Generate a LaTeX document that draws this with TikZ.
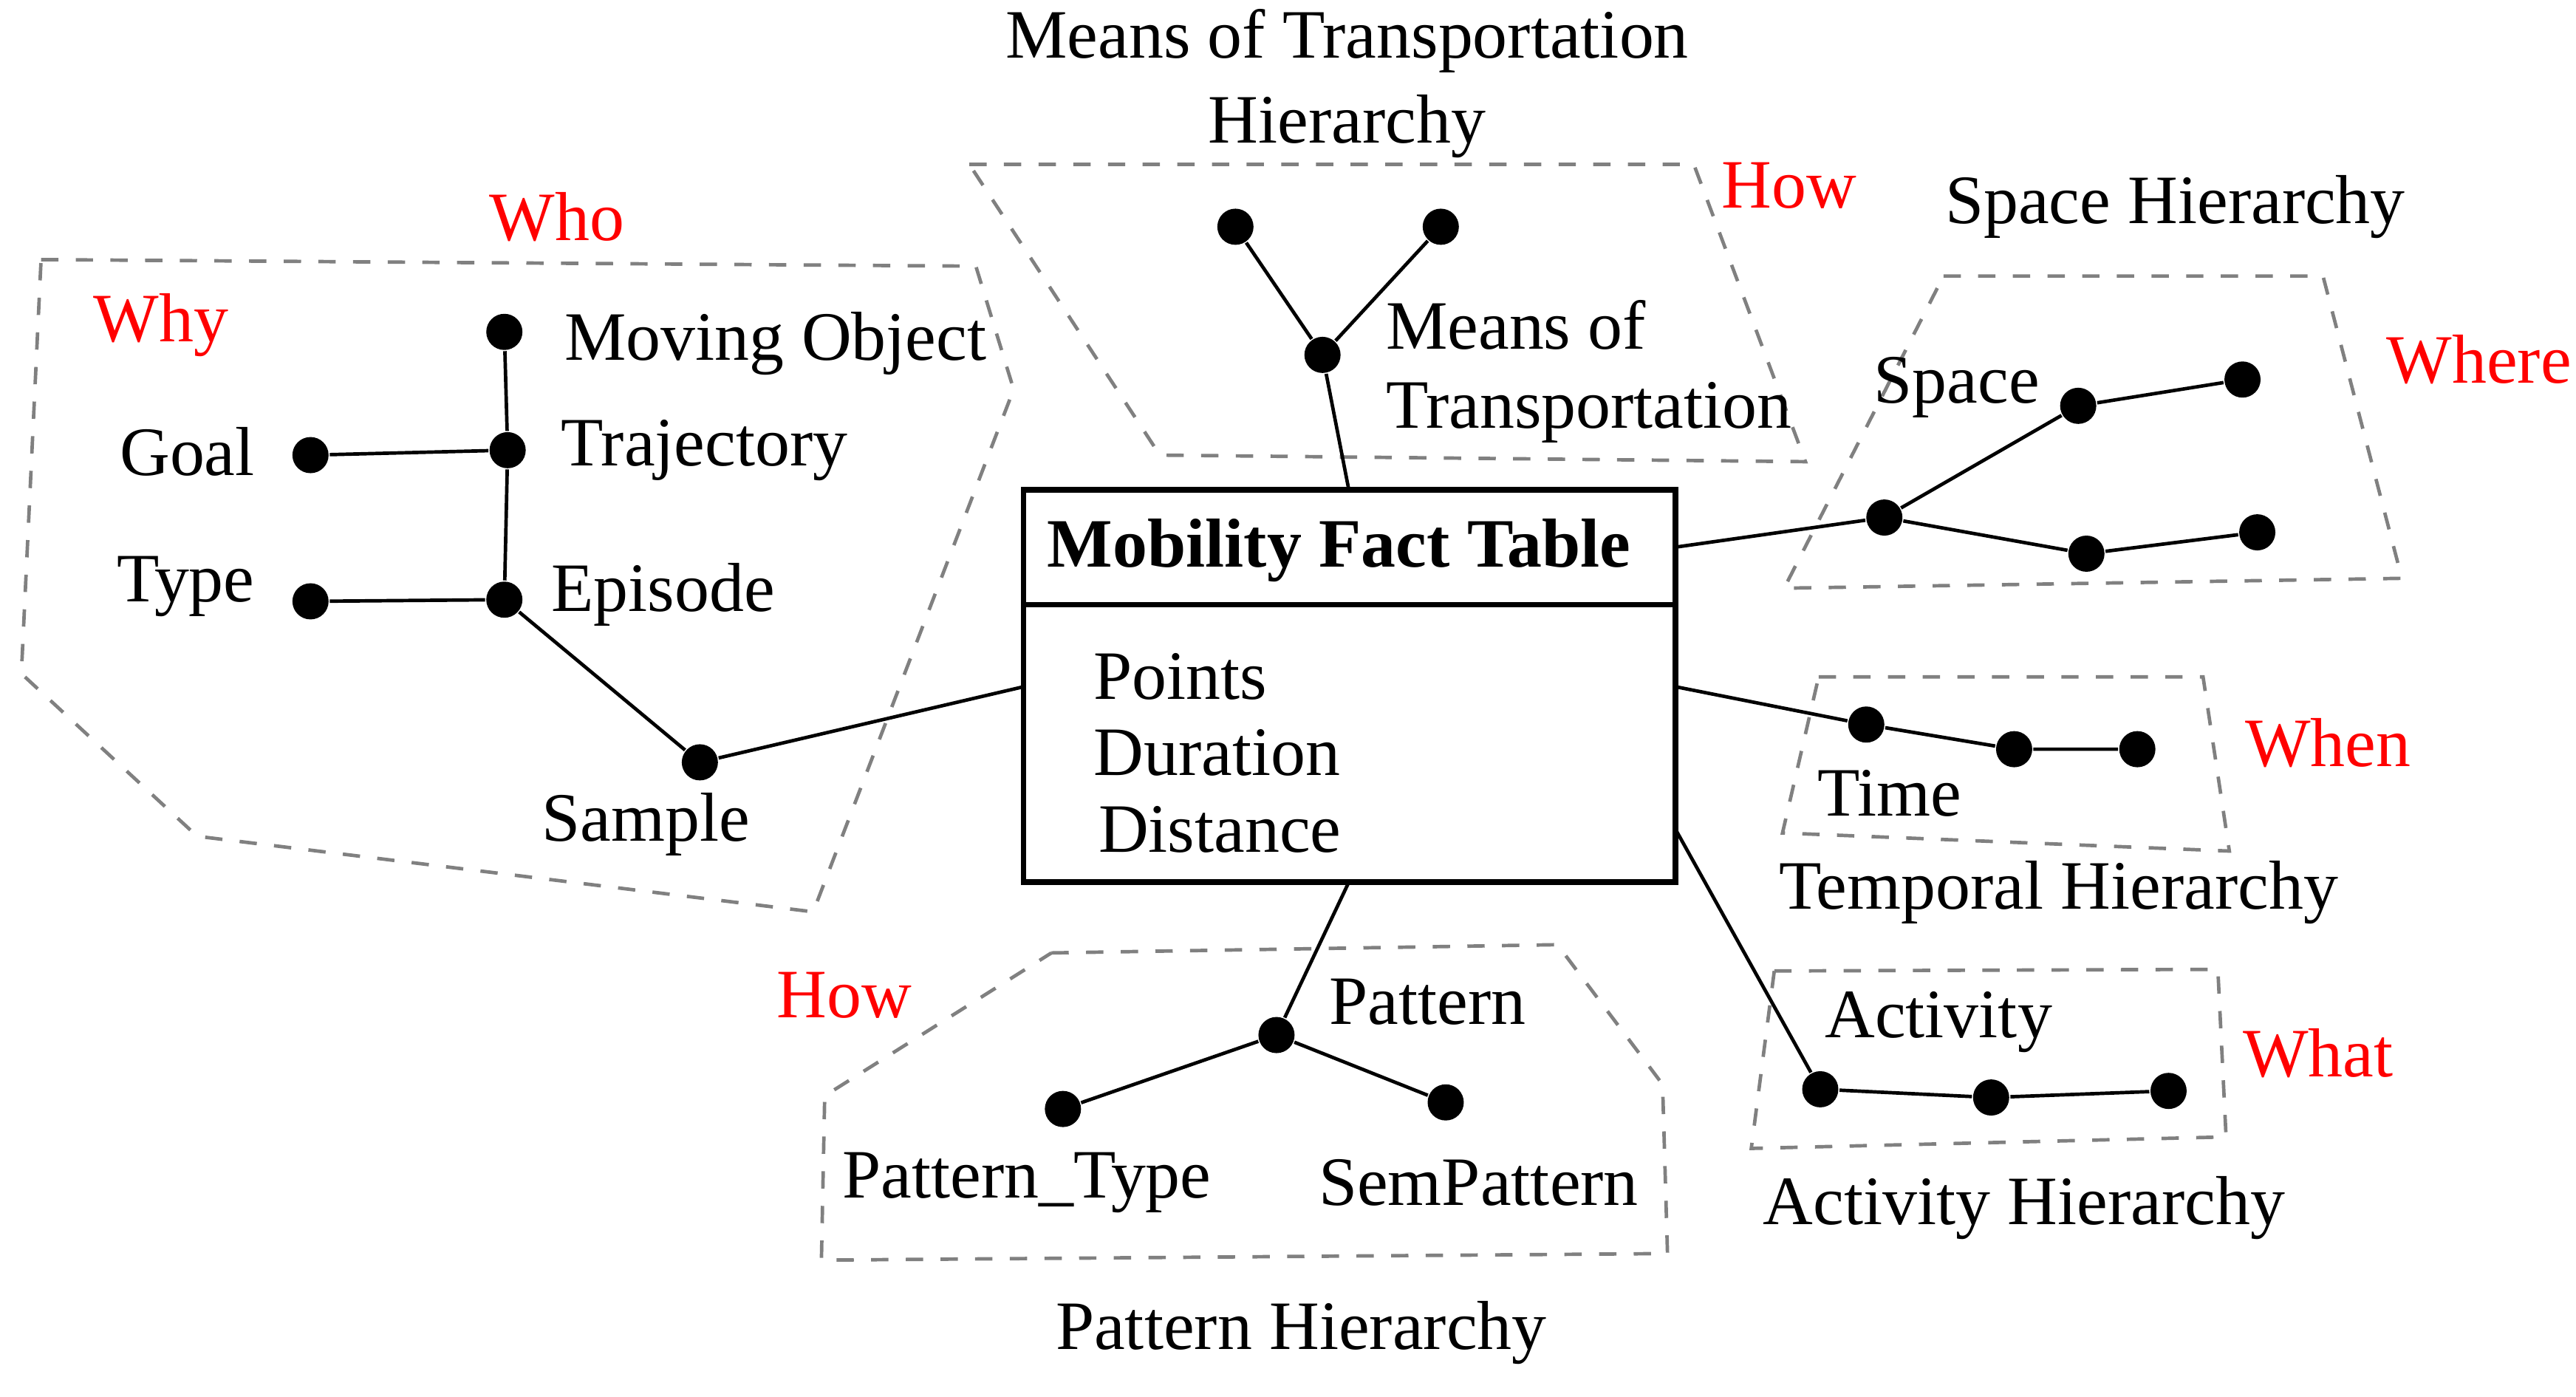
\documentclass[tikz,border=0pt]{standalone}
\usepackage{fontspec}
\setmainfont{Liberation Serif}
\begin{document}
\begin{tikzpicture}[x=0.01cm,y=-0.01cm,
  dot/.style={circle,fill=black,inner sep=0pt,minimum size=0.22cm},
  lab/.style={font=\fontsize{12}{14}\selectfont,inner sep=0pt},
  red/.style={lab,text={rgb,255:red,255;green,0;blue,0}},
  grp/.style={draw=gray,dashed,line width=0.6pt},
  edge/.style={line width=0.6pt}]
\useasboundingbox (0,0) rectangle (1568,850);
% groups
\draw[grp] (25,158)--(594,162)--(617,237)--(495,555)--(120,509)--(13,410)--cycle;
\draw[grp] (590,100)--(1031,100)--(1099,281)--(706,277)--cycle;
\draw[grp] (1183,168)--(1414,168)--(1462,352)--(1086,358)--cycle;
\draw[grp] (1107,412)--(1341,412)--(1357,518)--(1085,507)--cycle;
\draw[grp] (1080,591)--(1350,590)--(1355,692)--(1066,699)--cycle;
\draw[grp] (640,580)--(948,575)--(1012,660)--(1015,763)--(500,767)--(502,667)--cycle;
% fact table
\draw[line width=1pt] (623,298) rectangle (1020,537);
\draw[line width=1pt] (623,368)--(1020,368);
\node[lab,font=\fontsize{12}{14}\selectfont\bfseries] (ft) at (815,335) {Mobility Fact Table};
\node[lab,anchor=west] at (665,412) {Points};
\node[lab,anchor=west] at (665,458) {Duration};
\node[lab,anchor=west] at (668,505) {Distance};
\coordinate (fTop) at (821,298); \coordinate (fBot) at (821,537);
\coordinate (fL) at (623,418); \coordinate (fR1) at (1020,333);
\coordinate (fR2) at (1020,418); \coordinate (fR3) at (1020,505);
% who
\node[dot] (mo) at (307,202) {}; \node[dot] (tr) at (309,274) {};
\node[dot] (go) at (189,277) {}; \node[dot] (ep) at (307,365) {};
\node[dot] (ty) at (189,366) {}; \node[dot] (sa) at (426,464) {};
\draw[edge] (mo)--(tr)--(ep)--(sa); \draw[edge] (go)--(tr); \draw[edge] (ty)--(ep);
\draw[edge] (sa)--(fL);
\node[red] at (339,132) {Who}; \node[red] at (98,198) {Why};
\node[lab,anchor=west] at (343,209) {Moving Object};
\node[lab,anchor=west] at (341,274) {Trajectory};
\node[lab] at (114,275) {Goal}; \node[lab] at (113,357) {Type};
\node[lab,anchor=west] at (335,362) {Episode};
\node[lab] at (393,502) {Sample};
% means
\node[dot] (m1) at (752,138) {}; \node[dot] (m2) at (877,138) {};
\node[dot] (m3) at (805,216) {};
\draw[edge] (m1)--(m3)--(m2); \draw[edge] (m3)--(fTop);
\node[lab] at (820,25) {Means of Transportation};
\node[lab] at (820,77) {Hierarchy};
\node[red] at (1089,113) {How};
\node[lab,anchor=west] at (843,198) {Means of};
\node[lab,anchor=west] at (843,251) {Transportation};
% space
\node[dot] (s0) at (1147,315) {}; \node[dot] (s1) at (1265,247) {};
\node[dot] (s2) at (1365,231) {}; \node[dot] (s3) at (1270,337) {};
\node[dot] (s4) at (1374,324) {};
\draw[edge] (fR1)--(s0)--(s1)--(s2); \draw[edge] (s0)--(s3)--(s4);
\node[lab] at (1324,126) {Space Hierarchy};
\node[lab] at (1191,236) {Space};
\node[red] at (1509,219) {Where};
% time
\node[dot] (t0) at (1136,441) {}; \node[dot] (t1) at (1226,456) {};
\node[dot] (t2) at (1301,456) {};
\draw[edge] (fR2)--(t0)--(t1)--(t2);
\node[lab] at (1150,483) {Time}; \node[red] at (1417,452) {When};
\node[lab] at (1253,543) {Temporal Hierarchy};
% activity
\node[dot] (a0) at (1108,663) {}; \node[dot] (a1) at (1212,668) {};
\node[dot] (a2) at (1320,664) {};
\draw[edge] (fR3)--(a0)--(a1)--(a2);
\node[lab] at (1180,622) {Activity}; \node[red] at (1411,641) {What};
\node[lab] at (1232,735) {Activity Hierarchy};
% pattern
\node[dot] (p0) at (777,630) {}; \node[dot] (p1) at (647,675) {};
\node[dot] (p2) at (880,671) {};
\draw[edge] (fBot)--(p0); \draw[edge] (p1)--(p0)--(p2);
\node[red] at (514,606) {How}; \node[lab] at (869,610) {Pattern};
\node[lab] at (625,720) {Pattern\_Type}; \node[lab] at (900,720) {SemPattern};
\node[lab] at (792,811) {Pattern Hierarchy};
\end{tikzpicture}
\end{document}
